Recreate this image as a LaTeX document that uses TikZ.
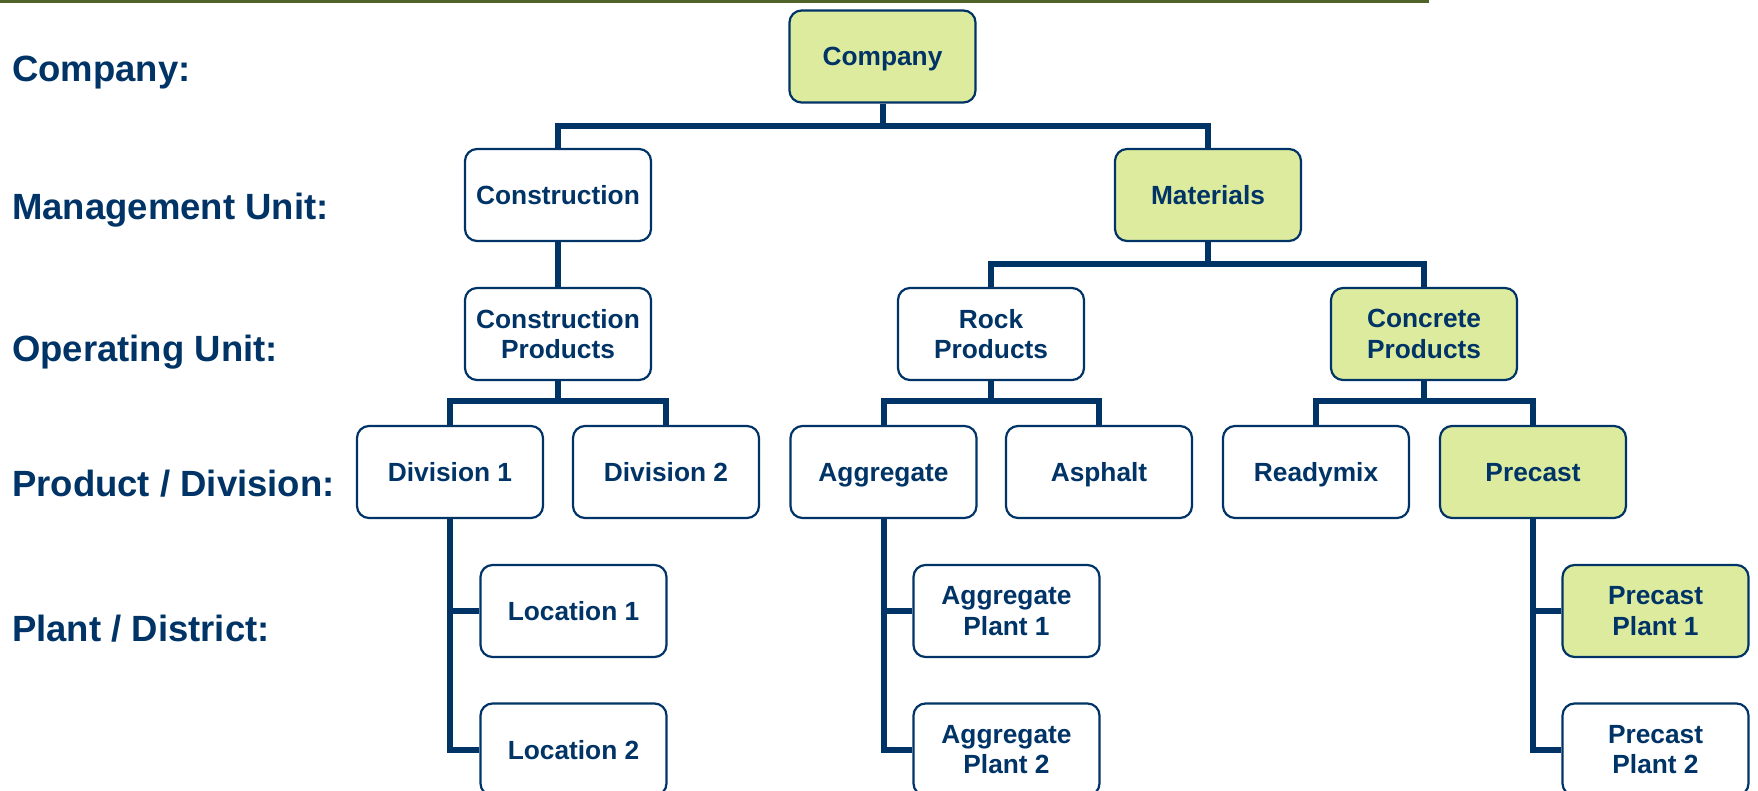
\documentclass[tikz,border=0pt]{standalone}
\usepackage{fontspec}
\setmainfont{Liberation Sans}
\definecolor{navy}{RGB}{0,51,102}
\definecolor{limefill}{RGB}{221,235,159}
\definecolor{olivebar}{RGB}{79,98,40}
\begin{document}
\begin{tikzpicture}[x=1pt,y=-1pt,
  box/.style={draw=navy, fill=white, line width=2.2pt, rounded corners=12pt,
    minimum width=186pt, minimum height=92pt, align=center, inner sep=0pt,
    font=\fontsize{26.3}{30.5}\selectfont\bfseries, text=navy},
  hi/.style={box, fill=limefill},
  one/.style={text height=19pt, text depth=0pt},
  lvl/.style={anchor=base west, inner sep=0pt,
    font=\fontsize{36.5}{40}\selectfont\bfseries, text=navy},
  conn/.style={draw=navy, line width=6pt}]
\useasboundingbox (0,0) rectangle (1758,791);
\fill[olivebar] (0,0) rectangle (1429,3.5);

% level labels
\node[lvl] (lc) at (12,81.5) {Company:};
\node[lvl] (lm) at (12,219.5) {Management Unit:};
\node[lvl] (lo) at (12,361.5) {Operating Unit:};
\node[lvl] (lp) at (12,496.5) {Product / Division:};
\node[lvl] (ld) at (12,641.5) {Plant / District:};

% boxes
\node[hi,one]  (co)  at (882.5,56.5) {Company};
\node[box,one] (con) at (558,195) {Construction};
\node[hi,one]  (mat) at (1208,195) {Materials};
\node[box] (cp)  at (558,334) {Construction\\Products};
\node[box] (rp)  at (991,334) {Rock\\Products};
\node[hi]  (ccp) at (1424,334) {Concrete\\Products};
\node[box,one] (d1)  at (450,472) {Division 1};
\node[box,one] (d2)  at (666,472) {Division 2};
\node[box,one] (ag)  at (883.5,472) {Aggregate};
\node[box,one] (as)  at (1099,472) {Asphalt};
\node[box,one] (rm)  at (1316,472) {Readymix};
\node[hi,one]  (pc)  at (1533,472) {Precast};
\node[box,one] (l1)  at (573.5,611) {Location 1};
\node[box,one] (l2)  at (573.5,749.5) {Location 2};
\node[box] (ap1) at (1006.5,611) {Aggregate\\Plant 1};
\node[box] (ap2) at (1006.5,749.5) {Aggregate\\Plant 2};
\node[hi]  (pp1) at (1655.5,611) {Precast\\Plant 1};
\node[box] (pp2) at (1655.5,749.5) {Precast\\Plant 2};

% connectors
\draw[conn] (co.south) -- ++(0,24);
\draw[conn] (con.north) -- ++(0,-22) -| (mat.north);
\draw[conn] (con.south) -- (cp.north);
\draw[conn] (mat.south) -- ++(0,23);
\draw[conn] (rp.north) -- ++(0,-23) -| (ccp.north);
\draw[conn] (cp.south) -- ++(0,22);
\draw[conn] (d1.north) -- ++(0,-24) -| (d2.north);
\draw[conn] (rp.south) -- ++(0,22);
\draw[conn] (ag.north) -- ++(0,-24) -| (as.north);
\draw[conn] (ccp.south) -- ++(0,22);
\draw[conn] (rm.north) -- ++(0,-24) -| (pc.north);
\draw[conn] (d1.south) |- (l1.west);
\draw[conn] (d1.south) |- (l2.west);
\draw[conn] (ag.south) |- (ap1.west);
\draw[conn] (ag.south) |- (ap2.west);
\draw[conn] (pc.south) |- (pp1.west);
\draw[conn] (pc.south) |- (pp2.west);
\end{tikzpicture}
\end{document}
